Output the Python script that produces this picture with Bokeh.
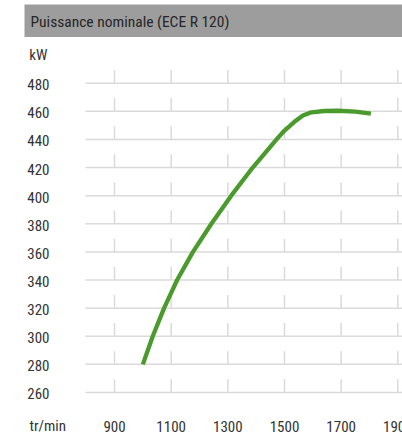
from bokeh.plotting import figure
from bokeh.models import Range1d
from bokeh.core.properties import value
from bokeh.embed import file_html
from bokeh.resources import INLINE

# data
rpm = [1000, 1035, 1075, 1121, 1177, 1242, 1312, 1388, 1472, 1500, 1535, 1565, 1595, 1640, 1690, 1750, 1805]
kw = [280, 300, 320, 340, 360, 380, 400, 420, 440, 446.3, 452.5, 457, 459.3, 460.2, 460.4, 459.7, 458.4]

x_ticks = [900, 1100, 1300, 1500, 1700, 1900]
y_ticks = [260, 280, 300, 320, 340, 360, 380, 400, 420, 440, 460, 480]

title_text = "Puissance nominale (ECE R 120)"
y_unit = "kW"
x_unit = "tr/min"

FONT = "Roboto Condensed, DejaVu Sans Condensed, Liberation Sans Narrow, Open Sans, sans-serif"
TXT = "#333333"
GRID = "#dadada"
W, H = 402, 436

# ranges: the frame covers the whole canvas
X0, X1 = 497.6, 1916.5
Y0, Y1 = 228.7, 538.8


def px_x(px):
    return X0 + (X1 - X0) * px / W


def py_y(py):
    return Y1 - (Y1 - Y0) * py / H


p = figure(width=W, height=H, output_backend="svg", toolbar_location=None,
           x_range=Range1d(X0, X1), y_range=Range1d(Y0, Y1),
           min_border=0)
p.axis.visible = False
p.grid.visible = False
p.outline_line_color = None
p.background_fill_color = "white"
p.border_fill_color = "white"

# header band and title
p.quad(left=[px_x(24)], right=[X1 + 50], top=[py_y(4)], bottom=[py_y(36.5)],
       fill_color="#9d9d9d", line_color=None)
p.text(x=[px_x(30)], y=[py_y(21.5)], text=[title_text], text_font=value(FONT),
       text_font_size="15.5px", text_color="#262626", text_align="left", text_baseline="middle")

# grid: horizontal lines and short vertical marks above them
grid_left = px_x(85)
p.segment(x0=[grid_left] * len(y_ticks), y0=y_ticks, x1=[X1 + 50] * len(y_ticks), y1=y_ticks,
          line_color=GRID, line_width=1.5)
step = y_ticks[1] - y_ticks[0]
mx, my0, my1 = [], [], []
for yv in y_ticks:
    for xv in x_ticks:
        mx.append(xv)
        my0.append(yv)
        my1.append(yv + step * 0.47)
p.segment(x0=mx, y0=my0, x1=mx, y1=my1, line_color=GRID, line_width=1.5)

# tick labels
dy = (Y1 - Y0) / H  # data units per pixel
p.text(x=[px_x(49)] * len(y_ticks), y=[v - 1.5 * dy for v in y_ticks], text=[str(v) for v in y_ticks],
       text_font=value(FONT), text_font_size="15px", text_color=TXT,
       text_align="right", text_baseline="middle")
p.text(x=[px_x(47)], y=[py_y(54.7)], text=[y_unit],
       text_font=value(FONT), text_font_size="15px", text_color=TXT,
       text_align="right", text_baseline="middle")
p.text(x=x_ticks, y=[py_y(425.5)] * len(x_ticks), text=[str(v) for v in x_ticks],
       text_font=value(FONT), text_font_size="15px", text_color=TXT,
       text_align="center", text_baseline="middle")
p.text(x=[px_x(29)], y=[py_y(425.5)], text=[x_unit],
       text_font=value(FONT), text_font_size="15px", text_color=TXT,
       text_align="left", text_baseline="middle")

# curve
p.line(rpm, kw, line_color="#4a9a2d", line_width=4.3, line_join="round")

open("out.html", "w").write(file_html(p, INLINE))
